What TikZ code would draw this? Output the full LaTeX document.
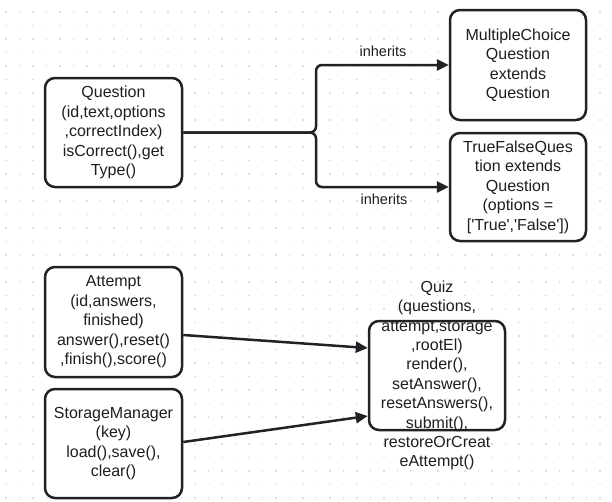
\documentclass[tikz,border=0pt]{standalone}
\usepackage{fontspec}
\setmainfont{Liberation Sans}
\usetikzlibrary{arrows.meta}
\definecolor{ink}{RGB}{34,34,38}
\definecolor{txt}{RGB}{30,30,30}
\definecolor{dotc}{RGB}{222,222,222}
\tikzset{
  box/.style={draw=ink, line width=2.5pt, rounded corners=10pt, fill=white,
    minimum width=137pt, minimum height=109pt, inner sep=0pt, align=center,
    text=txt, font=\fontsize{16}{19.5}\selectfont},
  plaintext/.style={inner sep=0pt, align=center, text=txt, font=\fontsize{16}{19.4}\selectfont},
  conn/.style={draw=ink, line width=2.5pt, -{Triangle[length=12pt,width=11pt]}},
  edgelabel/.style={inner sep=1.5pt, fill=white, text=txt, font=\fontsize{14.5}{17}\selectfont}
}
\begin{document}
\begin{tikzpicture}[x=1pt,y=-1pt]
\useasboundingbox (0,0) rectangle (612,501);
\fill[white] (0,0) rectangle (612,501);
\foreach \i in {0,...,45} {
  \foreach \j in {0,...,36} {
    \fill[dotc] ({6+13.5*\i-0.55},{12+13.5*\j-0.55}) rectangle ++(1.1,1.1);
  }
}
\node[box] (Q) at (113.5,132.5) {Question\\(id,text,options\\,correctIndex)\\isCorrect(),get\\Type()};
\node[box, minimum width=136pt, minimum height=110pt] (MC) at (518,65) {MultipleChoice\\Question\\extends\\Question};
\node[box, minimum width=136pt, minimum height=108pt] (TF) at (518,187) {TrueFalseQues\\tion extends\\Question\\(options =\\{[}\textquotesingle True\textquotesingle,\textquotesingle False\textquotesingle{]})};
\node[box, minimum height=110pt] (A) at (113.5,322) {Attempt\\(id,answers,\\finished)\\answer(),reset()\\,finish(),score()};
\node[box] (S) at (113.5,443.5) {StorageManager\\(key)\\load(),save(),\\clear()};
\node[box, minimum width=136pt] (Quiz) at (437,375.5) {};
\node[plaintext] (quiztext) at (437,375.5) {Quiz\\(questions,\\attempt,storage\\,rootEl)\\render(),\\setAnswer(),\\resetAnswers(),\\submit(),\\restoreOrCreat\\eAttempt()};

\draw[conn, rounded corners=6pt] (Q.east) -- (316,132.5) |- (MC.west);
\draw[conn, rounded corners=6pt] (Q.east) -- (316,132.5) |- (TF.west);
\node[edgelabel] (l1) at (383,51) {inherits};
\node[edgelabel] (l2) at (384,199) {inherits};

\draw[conn] ([yshift=-13pt]A.east) -- ([yshift=27.5pt]Quiz.west);
\draw[conn] ([yshift=1.5pt]S.east) -- ([yshift=-40.5pt]Quiz.west);
\end{tikzpicture}
\end{document}
